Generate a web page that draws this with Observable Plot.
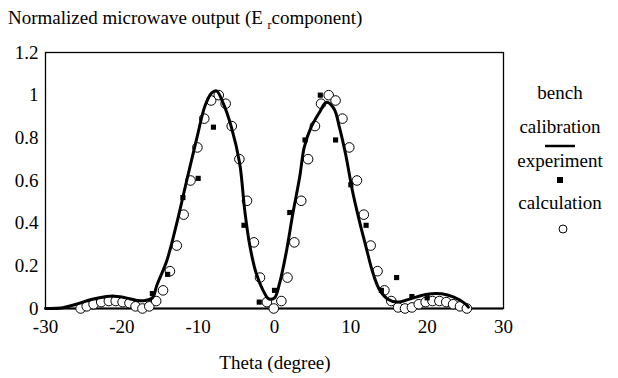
<!DOCTYPE html>
<html><head><meta charset="utf-8">
<script src="https://cdn.jsdelivr.net/npm/d3@7"></script>
<script src="https://cdn.jsdelivr.net/npm/@observablehq/plot@0.6"></script>
<style>
body{margin:0;background:#fff;}
#wrap{position:relative;width:618px;height:378px;font-family:"Liberation Serif","DejaVu Serif","Noto Serif","Times New Roman",Times,serif;color:#000;overflow:hidden;}
#wrap svg{position:absolute;left:0;top:0;}
.t{position:absolute;white-space:nowrap;line-height:1;}
.c{transform:translate(-50%,-50%);}
</style></head><body><div id="wrap"></div>
<script>
// Calibration (bench) curve
const calibTheta = [-30,-28,-26,-24,-22,-21,-20,-19,-18,-17,-16,-15.4,-14.1,-12.8,-11.5,-10.2,-9.1,-8.25,-7.6,-6.7,-5.65,-4.56,-3.9,-3.26,-2.4,-1.5,-0.75,0,0.65,1.5,2.4,3.3,3.9,4.8,5.9,6.8,7.8,8.5,9.35,10.2,11.1,12.0,12.8,13.7,14.8,16.1,17.8,19.8,21.9,23.5,25.0,25.4];
const calibValue = [0,0.002,0.02,0.042,0.056,0.058,0.054,0.046,0.038,0.037,0.05,0.11,0.225,0.40,0.60,0.795,0.95,1.01,1.02,0.96,0.85,0.68,0.46,0.30,0.165,0.085,0.045,0.05,0.116,0.256,0.444,0.616,0.756,0.85,0.92,0.967,0.936,0.85,0.717,0.553,0.413,0.287,0.178,0.092,0.045,0.03,0.045,0.066,0.069,0.053,0.022,0.006];
// Experiment (filled squares)
const expTheta = [-16,-14,-12,-10,-8,-4,-2,0,2,4,6,8,10,12,14,16,18,20];
const expValue = [0.07,0.16,0.52,0.61,0.85,0.39,0.03,0.085,0.45,0.79,1.0,0.79,0.58,0.39,0.085,0.145,0.056,0.05];
// Calculation (open circles)
const calcTheta = [-25.4,-24.6,-23.7,-22.7,-21.7,-20.8,-19.9,-19.0,-18.2,-17.3,-16.4,-15.5,-14.6,-13.7,-12.8,-11.9,-11.0,-10.1,-9.2,-8.3,-7.3,-6.4,-5.6,-4.6,-3.6,-2.7,-1.9,-1.0,-0.1,0.9,1.7,2.6,3.5,4.4,5.3,6.1,7.1,8.0,8.9,9.8,10.8,11.7,12.6,13.5,14.4,15.3,16.2,17.1,18.0,18.9,19.8,20.7,21.6,22.5,23.4,24.3,25.2];
const calcValue = [0,0.01,0.02,0.03,0.035,0.035,0.03,0.025,0.01,0,0.01,0.035,0.085,0.175,0.295,0.44,0.60,0.755,0.89,0.975,1.0,0.96,0.855,0.70,0.505,0.31,0.145,0.03,0,0.035,0.145,0.31,0.505,0.70,0.855,0.96,1.0,0.975,0.89,0.755,0.60,0.44,0.295,0.175,0.085,0.035,0.005,0,0.005,0.02,0.03,0.035,0.035,0.03,0.02,0.01,0];
const xTicks = [-30,-20,-10,0,10,20,30];
const yTicks = [0,0.2,0.4,0.6,0.8,1,1.2];
const titleText = "Normalized microwave output (E";
const titleSub = "r";
const titleRest = "component)";
const xLabel = "Theta (degree)";
const legendLabels = ["bench", "calibration", "experiment", "calculation"];

const calib = calibTheta.map((t,i)=>({t, v: calibValue[i]}));
const exp = expTheta.map((t,i)=>({t, v: expValue[i]}));
const calc = calcTheta.map((t,i)=>({t, v: calcValue[i]}));

const FONT = '"Liberation Serif","DejaVu Serif","Noto Serif","Times New Roman",Times,serif';
const chart = Plot.plot({
  width: 618, height: 378,
  marginLeft: 45, marginRight: 115, marginTop: 52, marginBottom: 70,
  style: {fontFamily: FONT, fontSize: "19px", color: "#000", background: "transparent"},
  x: {domain: [-30, 30], ticks: xTicks, tickSize: 0, tickPadding: 11, tickFormat: d => String(d), label: null},
  y: {domain: [0, 1.2], ticks: yTicks, tickSize: 0, tickPadding: 7, tickFormat: d => String(d), label: null},
  marks: [
    Plot.frame({stroke: "#000", strokeWidth: 1.3}),
    Plot.ruleY([0], {stroke: "#000", strokeWidth: 2}),
    Plot.dot(calc, {x: "t", y: "v", r: 4.8, stroke: "#000", strokeWidth: 1, fill: "#fff"}),
    Plot.line(calib, {x: "t", y: "v", stroke: "#000", strokeWidth: 3, curve: "catmull-rom"}),
    Plot.dot(exp, {x: "t", y: "v", symbol: "square", r: 2.9, fill: "#000", stroke: "none"})
  ]
});
chart.querySelectorAll("text").forEach(t => t.style.fontFamily = FONT);
const wrap = document.getElementById("wrap");
wrap.appendChild(chart);

function addText(html, cls, left, top, size){
  const d = document.createElement("div");
  d.className = "t " + cls;
  d.style.left = left + "px"; d.style.top = top + "px"; d.style.fontSize = size + "px";
  d.style.fontFamily = FONT;
  d.innerHTML = html;
  wrap.appendChild(d);
  return d;
}
addText(titleText + ' <span style="font-size:12px;position:relative;top:5px">' + titleSub + '</span>' + titleRest, "", 8, 8, 19);
addText(xLabel, "c", 275, 362, 19);
addText(legendLabels[0], "c", 560, 92, 19);
addText(legendLabels[1], "c", 560, 126, 19);
addText(legendLabels[2], "c", 560, 160, 19);
addText(legendLabels[3], "c", 560, 202, 19);
// legend symbols
const sym = document.createElementNS("http://www.w3.org/2000/svg","svg");
sym.setAttribute("width", 618); sym.setAttribute("height", 378);
sym.innerHTML = '<line x1="545" x2="575" y1="146" y2="146" stroke="#000" stroke-width="2.5"/>' +
  '<rect x="557" y="177" width="6" height="6" fill="#000"/>' +
  '<circle cx="563" cy="229" r="4" fill="#fff" stroke="#000" stroke-width="1"/>';
wrap.appendChild(sym);
</script>
</body></html>
